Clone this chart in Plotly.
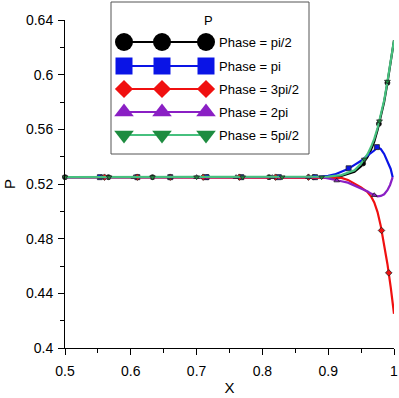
import plotly.graph_objects as go

# ---------------- data ----------------
series_names = ["Phase = pi/2", "Phase = pi", "Phase = 3pi/2", "Phase = 2pi", "Phase = 5pi/2"]

x_pi2 = [0.5, 0.6, 0.7, 0.8, 0.88, 0.9, 0.92, 0.94, 0.95, 0.96, 0.965, 0.97, 0.975, 0.98, 0.985, 0.99, 0.995, 1.0]
y_pi2 = [0.525, 0.525, 0.525, 0.525, 0.525, 0.5253, 0.526, 0.529, 0.533, 0.540, 0.545, 0.551, 0.5595, 0.569, 0.580, 0.594, 0.609, 0.625]

x_pi = [0.5, 0.6, 0.7, 0.8, 0.88, 0.9, 0.91, 0.92, 0.93, 0.94, 0.95, 0.96, 0.97, 0.975, 0.98, 0.985, 0.99, 0.995, 0.998]
y_pi = [0.525, 0.525, 0.525, 0.525, 0.525, 0.526, 0.527, 0.529, 0.531, 0.534, 0.537, 0.541, 0.5445, 0.547, 0.5455, 0.542, 0.537, 0.531, 0.525]

x_3pi2 = [0.5, 0.6, 0.7, 0.8, 0.9, 0.92, 0.93, 0.94, 0.95, 0.96, 0.965, 0.97, 0.975, 0.98, 0.985, 0.99, 0.995, 1.0]
y_3pi2 = [0.525, 0.525, 0.525, 0.525, 0.525, 0.5245, 0.523, 0.5205, 0.5175, 0.514, 0.511, 0.5065, 0.4995, 0.489, 0.476, 0.4615, 0.4445, 0.425]

x_2pi = [0.5, 0.6, 0.7, 0.8, 0.89, 0.9, 0.91, 0.92, 0.93, 0.94, 0.95, 0.96, 0.965, 0.97, 0.975, 0.98, 0.985, 0.99, 0.994, 0.998]
y_2pi = [0.525, 0.525, 0.525, 0.525, 0.525, 0.524, 0.5228, 0.522, 0.521, 0.519, 0.517, 0.5145, 0.513, 0.5118, 0.511, 0.5113, 0.5125, 0.5155, 0.5193, 0.525]

x_5pi2 = [0.5, 0.6, 0.7, 0.8, 0.88, 0.9, 0.92, 0.94, 0.95, 0.96, 0.965, 0.97, 0.975, 0.98, 0.985, 0.99, 0.995, 1.0]
y_5pi2 = [0.525, 0.525, 0.525, 0.525, 0.525, 0.5254, 0.5265, 0.530, 0.535, 0.542, 0.547, 0.553, 0.561, 0.570, 0.581, 0.595, 0.609, 0.625]

# marker samples along each curve
mx_pi2 = [0.5, 0.566, 0.633, 0.716, 0.81, 0.878, 0.953, 0.977, 0.99]
my_pi2 = [0.525, 0.525, 0.525, 0.525, 0.525, 0.525, 0.535, 0.564, 0.594]
mx_pi = [0.553, 0.61, 0.66, 0.715, 0.768, 0.825, 0.88, 0.931, 0.974]
my_pi = [0.525, 0.525, 0.525, 0.525, 0.525, 0.525, 0.525, 0.5315, 0.547]
mx_3pi2 = [0.56, 0.61, 0.66, 0.71, 0.765, 0.82, 0.87, 0.981, 0.992]
my_3pi2 = [0.525, 0.525, 0.525, 0.525, 0.525, 0.525, 0.525, 0.486, 0.455]
mx_2pi = [0.555, 0.605, 0.66, 0.7, 0.76, 0.815, 0.87, 0.913, 0.97]
my_2pi = [0.525, 0.525, 0.525, 0.525, 0.525, 0.525, 0.525, 0.5225, 0.5118]
mx_5pi2 = [0.5, 0.567, 0.633, 0.7, 0.77, 0.83, 0.89, 0.955, 0.978, 0.99]
my_5pi2 = [0.525, 0.525, 0.525, 0.525, 0.525, 0.525, 0.525, 0.538, 0.566, 0.595]

x_ticks = [0.5, 0.6, 0.7, 0.8, 0.9, 1.0]
x_ticklabels = ["0.5", "0.6", "0.7", "0.8", "0.9", "1"]
y_ticks = [0.4, 0.44, 0.48, 0.52, 0.56, 0.6, 0.64]
y_ticklabels = ["0.4", "0.44", "0.48", "0.52", "0.56", "0.6", "0.64"]

# ---------------- styling ----------------
line_colors = ["#000000", "#0a14e6", "#f01010", "#8a1fc4", "#46c07e"]
marker_colors = ["#000000", "#0a14e6", "#f01010", "#8a1fc4", "#1e8c40"]
symbols = ["circle", "square", "diamond", "triangle-up", "triangle-down"]
legend_sizes = [18, 17, 14, 17, 17]

curves = [(x_pi2, y_pi2), (x_pi, y_pi), (x_3pi2, y_3pi2), (x_2pi, y_2pi), (x_5pi2, y_5pi2)]
marks = [(mx_pi2, my_pi2), (mx_pi, my_pi), (mx_3pi2, my_3pi2), (mx_2pi, my_2pi), (mx_5pi2, my_5pi2)]

FONT = "Liberation Sans, Arial, sans-serif"
W, H = 399, 398
ML, MR, MT, MB = 65, 5, 0, 50
plot_top_px = 20
paper_h = H - MT - MB
paper_w = W - ML - MR

fig = go.Figure()

for i in range(5):
    cx, cy = curves[i]
    mx, my = marks[i]
    fig.add_trace(go.Scatter(x=cx, y=cy, mode="lines", line=dict(color=line_colors[i], width=2.2),
                             showlegend=False, hoverinfo="skip"))
    fig.add_trace(go.Scatter(x=mx, y=my, mode="markers",
                             marker=dict(symbol=symbols[i], size=5, color=marker_colors[i],
                                         line=dict(color="#222222", width=0.8)),
                             showlegend=False, cliponaxis=False, hoverinfo="skip"))

# ---------------- custom legend drawn in an overlay axis (pixel-like coords) ----------------
box_l, box_r, box_t, box_b = 111, 309, 2, 154
row_y = [42, 66, 89, 112, 135]
sample_x = [124, 162, 206]
for i in range(5):
    fig.add_trace(go.Scatter(x=sample_x, y=[row_y[i]] * 3, mode="lines+markers", xaxis="x2", yaxis="y2",
                             line=dict(color=line_colors[i], width=2),
                             marker=dict(symbol=symbols[i], size=legend_sizes[i], color=marker_colors[i]),
                             showlegend=False, cliponaxis=False, hoverinfo="skip"))

annotations = [dict(x=208, y=20, xref="x2", yref="y2", text="P", showarrow=False,
                    font=dict(family=FONT, size=13, color="#000"))]
for i in range(5):
    annotations.append(dict(x=217, y=row_y[i], xref="x2", yref="y2", text=series_names[i],
                            showarrow=False, xanchor="left", font=dict(family=FONT, size=13, color="#000")))

def px_to_paper_x(p):
    return (p - ML) / paper_w

def px_to_paper_y(p):
    return (H - MB - p) / paper_h

shapes = [dict(type="rect", xref="paper", yref="paper",
               x0=px_to_paper_x(box_l), x1=px_to_paper_x(box_r),
               y0=px_to_paper_y(box_b), y1=px_to_paper_y(box_t),
               line=dict(color="#555555", width=1), fillcolor="white", layer="below")]

axis_common = dict(showgrid=False, zeroline=False, showline=True, linecolor="#000", linewidth=1,
                   ticks="outside", tickcolor="#000", tickwidth=1, ticklen=6, automargin=False,
                   tickfont=dict(family=FONT, size=14, color="#000"))

fig.update_layout(
    width=W, height=H,
    margin=dict(l=ML, r=MR, t=MT, b=MB, autoexpand=False),
    paper_bgcolor="white", plot_bgcolor="rgba(0,0,0,0)",
    font=dict(family=FONT, color="#000"),
    xaxis=dict(range=[0.5, 1.0], domain=[0, 1], tickvals=x_ticks, ticktext=x_ticklabels,
               ticklabelstandoff=4,
               minor=dict(dtick=0.05, tick0=0.5, ticks="outside", ticklen=4, tickcolor="#000", showgrid=False),
               title=dict(text="X", font=dict(family=FONT, size=15), standoff=4), **axis_common),
    yaxis=dict(range=[0.4, 0.64], domain=[0, (H - MB - plot_top_px) / paper_h], tickvals=y_ticks,
               ticktext=y_ticklabels, ticklabelstandoff=2,
               minor=dict(dtick=0.02, tick0=0.4, ticks="outside", ticklen=4, tickcolor="#000", showgrid=False),
               title=dict(text="P", font=dict(family=FONT, size=15), standoff=6), **axis_common),
    xaxis2=dict(domain=[px_to_paper_x(box_l), px_to_paper_x(box_r)], range=[box_l, box_r],
                anchor="y2", visible=False, fixedrange=True, automargin=False),
    yaxis2=dict(domain=[px_to_paper_y(box_b), px_to_paper_y(box_t)], range=[box_b, box_t],
                anchor="x2", visible=False, fixedrange=True, automargin=False),
    shapes=shapes,
    annotations=annotations,
)

fig.write_html("out.html", config={"displayModeBar": False},
               post_script="document.body.style.margin='0';")
